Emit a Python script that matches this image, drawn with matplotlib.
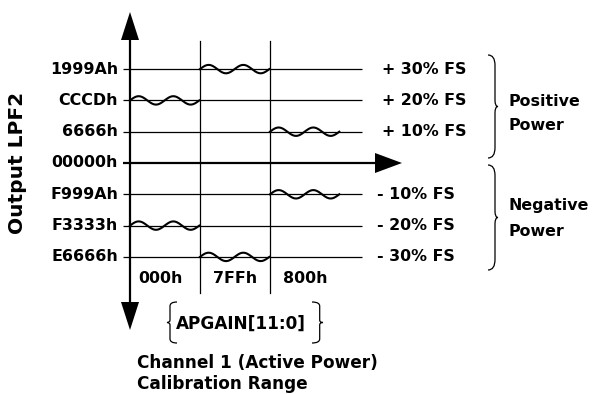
import matplotlib
matplotlib.use("Agg")
import matplotlib.pyplot as plt
import numpy as np
from matplotlib.path import Path
from matplotlib.patches import PathPatch

# ---------------- data ----------------
levels = [3, 2, 1, 0, -1, -2, -3]
hex_labels = ["1999Ah", "CCCDh", "6666h", "00000h", "F999Ah", "F3333h", "E6666h"]
fs_labels = ["+ 30% FS", "+ 20% FS", "+ 10% FS", "", "- 10% FS", "- 20% FS", "- 30% FS"]
gain_codes = ["000h", "7FFh", "800h"]
gain_columns = [0, 1, 2]
ripple_pos_levels = [2, 3, 1]     # positive-power output level per gain code
ripple_neg_levels = [-2, -3, -1]  # negative-power output level per gain code
y_title = "Output LPF2"
x_title = ["Channel 1 (Active Power)", "Calibration Range"]
reg_label = "APGAIN[11:0]"
group_labels = [["Positive", "Power"], ["Negative", "Power"]]

# ---------------- layout ----------------
W, H = 594, 394
X0, XS = 130, 70.0      # pixel of column 0, pixels per column
Y0, YS = 163, 31.3      # pixel of level 0, pixels per level

def X(px):
    return (px - X0) / XS

def Y(py):
    return (Y0 - py) / YS

plt.rcParams["font.family"] = ["DejaVu Sans"]
plt.rcParams["font.weight"] = "bold"

fig = plt.figure(figsize=(W / 100, H / 100), dpi=100)
ax = fig.add_axes([0, 0, 1, 1])
ax.set_xlim(X(0), X(W))
ax.set_ylim(Y(H), Y(0))
ax.axis("off")

K = "black"
fs_lab = 11.4

# horizontal level lines
line_end = X(362)
for lv, lab in zip(levels, hex_labels):
    if lv == 0:
        ax.plot([X(123), X(378)], [lv, lv], color=K, lw=1.6, solid_capstyle="butt")
        ax.fill([X(375), X(402), X(375)], [lv + 10 / YS, lv, lv - 10 / YS], color=K, lw=0)
    else:
        ax.plot([X(123), line_end], [lv, lv], color=K, lw=0.9, solid_capstyle="butt")
    ax.text(X(118), lv, lab, ha="right", va="center", fontsize=fs_lab, color=K)

for lv, lab in zip(levels, fs_labels):
    if lab:
        xl = X(382) if lv > 0 else X(377)
        ax.text(xl, lv, lab, ha="left", va="center", fontsize=fs_lab, color=K)

# vertical axis (double arrow)
ax.plot([0, 0], [Y(40), Y(302)], color=K, lw=1.6, solid_capstyle="butt")
hw = 9 / XS
ax.fill([-hw, hw, 0], [Y(40), Y(40), Y(12)], color=K, lw=0)
ax.fill([-hw, hw, 0], [Y(302), Y(302), Y(330)], color=K, lw=0)

# column separators
for c in gain_columns[1:]:
    ax.plot([c, c], [Y(41), Y(293)], color=K, lw=0.9)

# column labels
for c, g in zip(gain_columns, gain_codes):
    ax.text(c + 0.5 - (0.06 if c == 0 else 0), Y(279), g, ha="center", va="center",
            fontsize=fs_lab, color=K)

# ripples
amp = 4.2 / YS
t = np.linspace(0, 1, 200)
for c, lp, ln in zip(gain_columns, ripple_pos_levels, ripple_neg_levels):
    for lv in (lp, ln):
        xs = c + t * 0.99
        ys = lv + amp * np.sin(2 * np.pi * 2 * t)
        ax.plot(xs, ys, color=K, lw=1.5)

# braces
def brace(x0, y_top, y_bot, w, lw=0.9):
    h = y_top - y_bot
    ym = (y_top + y_bot) / 2
    xm = x0 + 0.7 * w
    xt = x0 + w
    verts = [(x0, y_top), (xm, y_top), (xm, y_top - 0.1 * h),
             (xm, ym + 0.06 * h),
             (xm, ym), (xt, ym),
             (xm, ym), (xm, ym - 0.06 * h),
             (xm, y_bot + 0.1 * h),
             (xm, y_bot), (x0, y_bot)]
    codes = [Path.MOVETO, Path.CURVE3, Path.CURVE3, Path.LINETO,
             Path.CURVE3, Path.CURVE3, Path.CURVE3, Path.CURVE3,
             Path.LINETO, Path.CURVE3, Path.CURVE3]
    ax.add_patch(PathPatch(Path(verts, codes), fill=False, lw=lw, color=K))

brace(X(488), Y(55), Y(158), 10 / XS)
brace(X(488), Y(165), Y(270), 10 / XS)
brace(X(177), Y(302), Y(343), -10 / XS)
brace(X(312), Y(302), Y(343), 11 / XS)

group_y = [[Y(102), Y(125)], [Y(206), Y(232)]]
for labs, ys in zip(group_labels, group_y):
    for lab, yy in zip(labs, ys):
        ax.text(X(508), yy, lab, ha="left", va="center", fontsize=fs_lab, color=K)

# register label and x title
ax.text(X(176), Y(324), reg_label, ha="left", va="center", fontsize=12.2, color=K)
ax.text(X(137), Y(368), x_title[0], ha="left", va="baseline", fontsize=12.2, color=K)
ax.text(X(137), Y(389), x_title[1], ha="left", va="baseline", fontsize=12.2, color=K)

# y title
ax.text(X(18), Y(163), y_title, ha="center", va="center", rotation=90,
        fontsize=14.5, color=K)

fig.savefig("out.png", dpi=100)
